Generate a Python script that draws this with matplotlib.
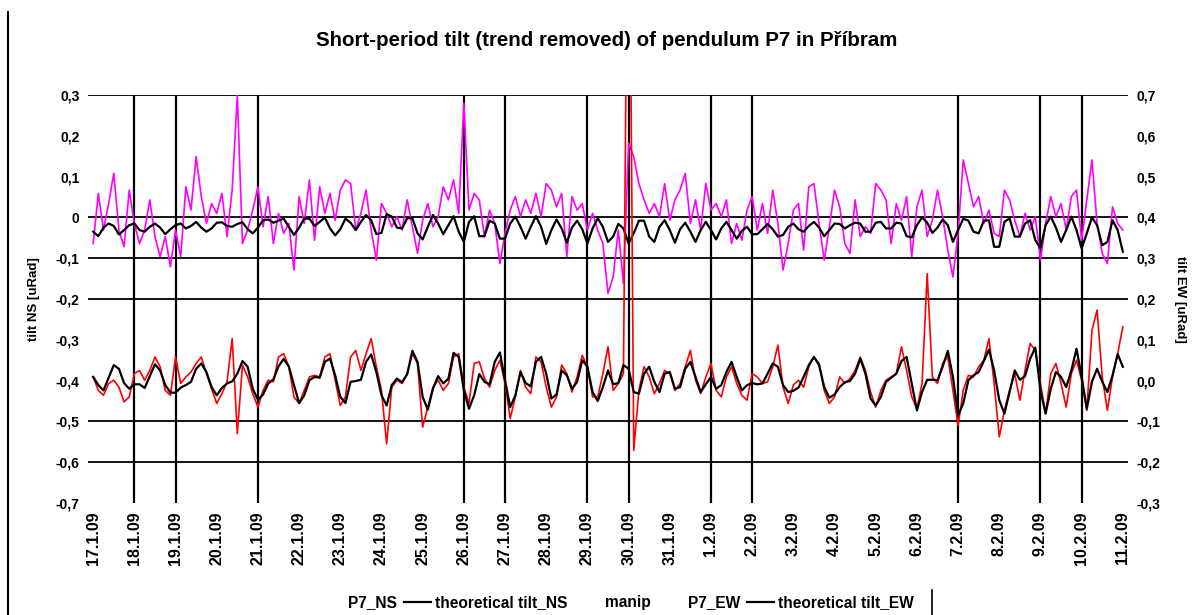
import pandas as pd
import matplotlib
matplotlib.use('Agg')
import matplotlib.pyplot as plt
from matplotlib.lines import Line2D

plt.rcParams['font.family'] = ['Liberation Sans', 'DejaVu Sans']

# samples every 3 hours starting 17.1.2009 00:00
start = '2009-01-17'
step = '3h'

# measured tilt NS [uRad] (left axis)
p7_ns = [
    -0.064, 0.059, -0.031, 0.034, 0.108, -0.031, -0.072, 0.067, -0.015, -0.064,
    -0.031, 0.043, -0.047, -0.096, -0.047, -0.121, -0.031, -0.096, 0.075, 0.018,
    0.149, 0.051, -0.015, 0.034, 0.010,
    0.059, -0.047, 0.067, 0.300, -0.064, -0.031, 0.018, 0.075, -0.023, 0.051,
    -0.064, 0.010, -0.039, -0.015, -0.129, 0.051, -0.015, 0.092, -0.056, 0.075,
    0.010, 0.059, -0.007, 0.067, 0.092,
    0.083, -0.031, 0.010, 0.067, -0.031, -0.105, 0.034, 0.010, -0.023, 0.002,
    -0.031, 0.043, -0.023, -0.088, -0.007, 0.034, -0.023, 0.002, 0.075, 0.043,
    0.092, 0.010, 0.280, 0.018, 0.059,
    0.043, -0.047, 0.018, -0.015, -0.113, -0.039, 0.018, 0.051, 0.002, 0.043,
    0.010, 0.059, 0.002, 0.083, 0.067, 0.026, 0.059, -0.096, 0.051, 0.018,
    0.034, -0.031, 0.010, -0.031, -0.064, -0.186,
    -0.146, -0.031, -0.162, 0.182, 0.149, 0.083, 0.043, 0.010, 0.034, 0.002,
    0.083, -0.007, 0.043, 0.067, 0.108, -0.015, 0.043, -0.031, 0.083, 0.018,
    0.034, 0.002, 0.043, -0.064, -0.015,
    -0.056, 0.018, 0.051, -0.031, 0.034, -0.039, 0.067, -0.015, -0.129, -0.064,
    0.018, 0.034, -0.080, 0.075, 0.083, -0.015, -0.105, -0.023, 0.067, 0.026,
    -0.064, -0.088, 0.043, -0.047, -0.023,
    -0.039, 0.083, 0.067, 0.043, -0.064, 0.034, -0.007, 0.051, -0.096, 0.026,
    0.067, -0.047, -0.007, 0.067, 0.002, -0.080, -0.146, -0.039, 0.141, 0.083,
    0.026, 0.051, -0.015, 0.018, -0.039,
    -0.047, 0.067, 0.043, -0.007, -0.047, 0.010, -0.031, 0.002, -0.105, -0.015,
    0.051, 0.002, 0.034, -0.031, 0.051, 0.067, -0.056, 0.043, 0.141, -0.015,
    -0.088, -0.113, 0.026, -0.015, -0.031,
]

# theoretical tilt NS [uRad]
theory_ns = [
    -0.035, -0.046, -0.025, -0.015, -0.021, -0.042, -0.031, -0.019, -0.015, -0.031,
    -0.035, -0.023, -0.015, -0.025, -0.041, -0.029, -0.019, -0.015, -0.027, -0.021,
    -0.011, -0.025, -0.035, -0.027, -0.013,
    -0.012, -0.021, -0.023, -0.016, -0.012, -0.029, -0.039, -0.025, -0.007, -0.005,
    -0.013, -0.008, -0.003, -0.023, -0.043, -0.025, -0.003, -0.003, -0.021, -0.011,
    0.000, -0.027, -0.044, -0.029, -0.003,
    -0.013, -0.031, -0.011, 0.006, -0.007, -0.041, -0.038, 0.008, 0.002, -0.025,
    -0.027, -0.002, -0.002, -0.039, -0.054, -0.023, 0.006, -0.015, -0.041, -0.019,
    0.003, -0.035, -0.060, -0.011, 0.003,
    -0.046, -0.046, -0.008, -0.015, -0.052, -0.052, -0.015, 0.002, -0.023, -0.052,
    -0.023, 0.003, -0.023, -0.065, -0.031, -0.005, -0.027, -0.062, -0.025, -0.008,
    -0.029, -0.064, -0.027, -0.002, -0.023, -0.060,
    -0.047, -0.016, -0.027, -0.064, -0.039, -0.008, -0.008, -0.047, -0.060, -0.023,
    -0.007, -0.031, -0.062, -0.029, -0.013, -0.035, -0.060, -0.031, -0.011, -0.031,
    -0.054, -0.027, -0.011, -0.031, -0.052,
    -0.033, -0.023, -0.041, -0.041, -0.029, -0.016, -0.029, -0.047, -0.043, -0.023,
    -0.015, -0.029, -0.035, -0.021, -0.011, -0.025, -0.046, -0.031, -0.015, -0.016,
    -0.027, -0.019, -0.013, -0.015, -0.035,
    -0.035, -0.013, -0.011, -0.027, -0.027, -0.013, -0.015, -0.046, -0.049, -0.019,
    0.000, -0.013, -0.038, -0.025, -0.005, -0.019, -0.060, -0.031, -0.003, -0.008,
    -0.035, -0.039, -0.008, -0.007, -0.072,
    -0.072, -0.011, -0.002, -0.047, -0.047, -0.015, -0.007, -0.056, -0.076, -0.019,
    0.002, -0.025, -0.060, -0.031, 0.002, -0.031, -0.076, -0.039, 0.000, -0.019,
    -0.068, -0.060, -0.007, -0.031, -0.084,
]

# measured tilt EW [uRad] (right axis), 1.5 = off-scale jump at the manipulation
p7_ew = [
    0.009, -0.024, -0.036, -0.007, 0.001, -0.016, -0.052, -0.040, 0.017, 0.025,
    0.001, 0.025, 0.058, 0.034, -0.024, -0.036, 0.058, -0.007, 0.009, 0.021,
    0.042, 0.058, 0.017, -0.020, -0.056,
    -0.032, -0.003, 0.103, -0.130, 0.038, 0.009, -0.032, -0.065, -0.024, 0.001,
    -0.003, 0.058, 0.066, 0.034, -0.040, -0.056, -0.024, 0.009, 0.013, 0.009,
    0.058, 0.066, 0.001, -0.061, -0.040,
    0.058, 0.074, 0.025, 0.066, 0.103, 0.034, -0.024, -0.155, -0.016, 0.001,
    -0.007, 0.017, 0.066, 0.042, -0.114, -0.065, -0.016, 0.001, -0.024, -0.007,
    0.058, 0.066, -0.016, -0.056, 0.042,
    0.046, 0.005, -0.016, 0.025, 0.050, -0.007, -0.093, -0.040, 0.025, -0.016,
    -0.032, 0.058, 0.046, -0.016, -0.065, -0.040, 0.038, 0.017, -0.028, 0.009,
    0.062, 0.034, -0.040, -0.040, 0.017, 0.083,
    -0.024, -0.007, 0.017, 1.500, -0.171, -0.024, 0.034, 0.009, -0.032, -0.007,
    0.025, 0.017, -0.024, -0.007, 0.034, 0.074, 0.001, -0.032, 0.009, 0.042,
    -0.024, -0.040, 0.009, 0.034, -0.007,
    -0.036, -0.048, 0.017, 0.009, -0.007, -0.003, 0.034, 0.087, -0.016, -0.056,
    -0.011, 0.001, -0.016, 0.034, 0.058, 0.042, -0.024, -0.056, -0.040, 0.009,
    -0.007, 0.005, 0.025, 0.058, 0.025,
    -0.028, -0.065, -0.024, 0.001, 0.009, 0.017, 0.083, 0.025, -0.040, -0.069,
    -0.007, 0.262, 0.009, -0.007, 0.042, 0.058, -0.024, -0.110, -0.024, 0.013,
    0.009, 0.034, 0.050, 0.103, -0.007,
    -0.138, -0.073, -0.024, 0.017, -0.048, 0.025, 0.091, 0.074, -0.007, -0.081,
    0.017, 0.042, -0.007, -0.065, 0.017, 0.050, 0.001, -0.073, 0.123, 0.173,
    0.009, -0.073, 0.009, 0.066, 0.132,
]

# theoretical tilt EW [uRad]
theory_ew = [
    0.009, -0.011, -0.024, 0.007, 0.038, 0.029, -0.006, -0.020, -0.009, -0.009,
    -0.018, 0.011, 0.040, 0.025, -0.011, -0.029, -0.030, -0.017, -0.011, -0.003,
    0.029, 0.042, 0.021, -0.016, -0.036,
    -0.018, -0.007, -0.002, 0.017, 0.048, 0.034, -0.020, -0.047, -0.034, -0.007,
    0.003, 0.035, 0.053, 0.035, -0.011, -0.055, -0.036, 0.001, 0.009, 0.007,
    0.046, 0.054, 0.013, -0.040, -0.055,
    -0.003, -0.001, 0.002, 0.046, 0.064, 0.021, -0.036, -0.061, -0.011, 0.005,
    -0.004, 0.016, 0.073, 0.046, -0.040, -0.071, -0.020, 0.011, -0.007, 0.005,
    0.068, 0.058, -0.024, -0.069, -0.036,
    0.016, -0.003, -0.009, 0.046, 0.069, 0.001, -0.065, -0.036, 0.021, -0.006,
    -0.014, 0.046, 0.058, 0.017, -0.044, -0.034, 0.025, 0.013, -0.020, -0.003,
    0.050, 0.034, -0.028, -0.050, -0.016, 0.025,
    -0.009, -0.006, 0.038, 0.029, -0.028, -0.032, 0.017, 0.034, -0.003, -0.028,
    0.017, 0.021, -0.020, -0.016, 0.029, 0.046, 0.009, -0.028, -0.009, 0.009,
    -0.020, -0.011, 0.021, 0.046, 0.009,
    -0.024, -0.011, -0.006, -0.009, -0.007, 0.017, 0.042, 0.034, -0.011, -0.028,
    -0.025, -0.017, 0.009, 0.038, 0.058, 0.038, -0.016, -0.042, -0.034, -0.016,
    -0.004, -0.001, 0.017, 0.054, 0.017,
    -0.044, -0.061, -0.040, -0.003, 0.007, 0.017, 0.048, 0.058, -0.007, -0.073,
    -0.028, 0.002, 0.002, 0.001, 0.034, 0.073, 0.009, -0.085, -0.056, 0.001,
    0.013, 0.021, 0.048, 0.076, 0.025,
    -0.048, -0.081, -0.028, 0.025, 0.002, 0.011, 0.054, 0.081, -0.024, -0.081,
    -0.020, 0.021, 0.009, -0.016, 0.025, 0.078, 0.009, -0.069, -0.003, 0.029,
    -0.003, -0.028, 0.013, 0.065, 0.034,
]

manip_days = ['2009-01-18', '2009-01-19', '2009-01-21', '2009-01-26', '2009-01-27',
              '2009-01-29', '2009-01-30', '2009-02-01', '2009-02-02', '2009-02-07',
              '2009-02-09', '2009-02-10']

day_labels = ['17.1.09', '18.1.09', '19.1.09', '20.1.09', '21.1.09', '22.1.09',
              '23.1.09', '24.1.09', '25.1.09', '26.1.09', '27.1.09', '28.1.09',
              '29.1.09', '30.1.09', '31.1.09', '1.2.09', '2.2.09', '3.2.09',
              '4.2.09', '5.2.09', '6.2.09', '7.2.09', '8.2.09', '9.2.09',
              '10.2.09', '11.2.09']

ns_ticks = [0.3, 0.2, 0.1, 0.0, -0.1, -0.2, -0.3, -0.4, -0.5, -0.6, -0.7]
ns_ticklabels = ['0,3', '0,2', '0,1', '0', '-0,1', '-0,2', '-0,3', '-0,4', '-0,5', '-0,6', '-0,7']
ew_ticks = [0.7, 0.6, 0.5, 0.4, 0.3, 0.2, 0.1, 0.0, -0.1, -0.2, -0.3]
ew_ticklabels = ['0,7', '0,6', '0,5', '0,4', '0,3', '0,2', '0,1', '0,0', '-0,1', '-0,2', '-0,3']
ns_gridlines = [0.3, 0.0, -0.1, -0.2, -0.5, -0.6]


def times(values):
    return pd.date_range(start, periods=len(values), freq=step)


fig = plt.figure(figsize=(12.01, 6.15), dpi=100)
ax = fig.add_axes([0.0733, 0.1821, 0.8659, 0.6634])
ax2 = ax.twinx()

for y in ns_gridlines:
    ax.axhline(y, color='black', lw=1.3, zorder=1)
ax.vlines(pd.to_datetime(manip_days), -0.7, 0.3, color='black', lw=1.6, zorder=1)

ax.plot(times(p7_ns), p7_ns, color='#ff00ff', lw=1.2, zorder=2)
ax.plot(times(theory_ns), theory_ns, color='black', lw=1.6, zorder=3)
ax2.plot(times(p7_ew), p7_ew, color='#ff0000', lw=1.2, zorder=2)
ax2.plot(times(theory_ew), theory_ew, color='black', lw=1.6, zorder=3)

days = pd.date_range('2009-01-17', '2009-02-11', freq='D')
ax.set_xlim(pd.Timestamp('2009-01-16 21:00'), pd.Timestamp('2009-02-11 03:00'))
ax.set_xticks(days)
ax.set_xticklabels(day_labels, rotation=90, fontsize=11.5, fontweight='bold')

ax.set_ylim(-0.7, 0.3)
ax.set_yticks(ns_ticks)
ax.set_yticklabels(ns_ticklabels, fontsize=10, fontweight='bold')
ax2.set_ylim(-0.3, 0.7)
ax2.set_yticks(ew_ticks)
ax2.set_yticklabels(ew_ticklabels, fontsize=10, fontweight='bold')

for a in (ax, ax2):
    for s in a.spines.values():
        s.set_visible(False)
    a.tick_params(length=0, pad=6)

ax.set_ylabel('tilt NS [uRad]', fontsize=9.5, fontweight='bold')
ax.yaxis.set_label_coords(-0.046, 0.5)
ax2.set_ylabel('tilt EW [uRad]', fontsize=9.5, fontweight='bold', rotation=270, va='center')
ax2.yaxis.set_label_coords(1.05, 0.5)

fig.text(0.505, 1 - 40 / 615, 'Short-period tilt (trend removed) of pendulum P7 in Příbram',
         ha='center', va='center', fontsize=14.8, fontweight='bold')

handles = [Line2D([], [], linestyle='none'),
           Line2D([], [], color='black', lw=1.6),
           Line2D([], [], linestyle='none'),
           Line2D([], [], linestyle='none'),
           Line2D([], [], color='black', lw=1.6)]
labels = ['P7_NS', 'theoretical tilt_NS', 'manip', 'P7_EW', 'theoretical tilt_EW']
fig.legend(handles, labels, ncol=5, loc='center left', frameon=False,
           bbox_to_anchor=(318 / 1201, 1 - 603 / 615), borderaxespad=0, borderpad=0,
           handlelength=1.7, handletextpad=0.26, columnspacing=0.45,
           prop={'size': 11.2, 'weight': 'bold'})

fig.add_artist(Line2D([8 / 1201, 8 / 1201], [0, 1 - 12 / 615], color='black', lw=1.5))
fig.add_artist(Line2D([932 / 1201, 932 / 1201], [0, 25 / 615], color='black', lw=1.2))

fig.savefig('out.png', dpi=100)
